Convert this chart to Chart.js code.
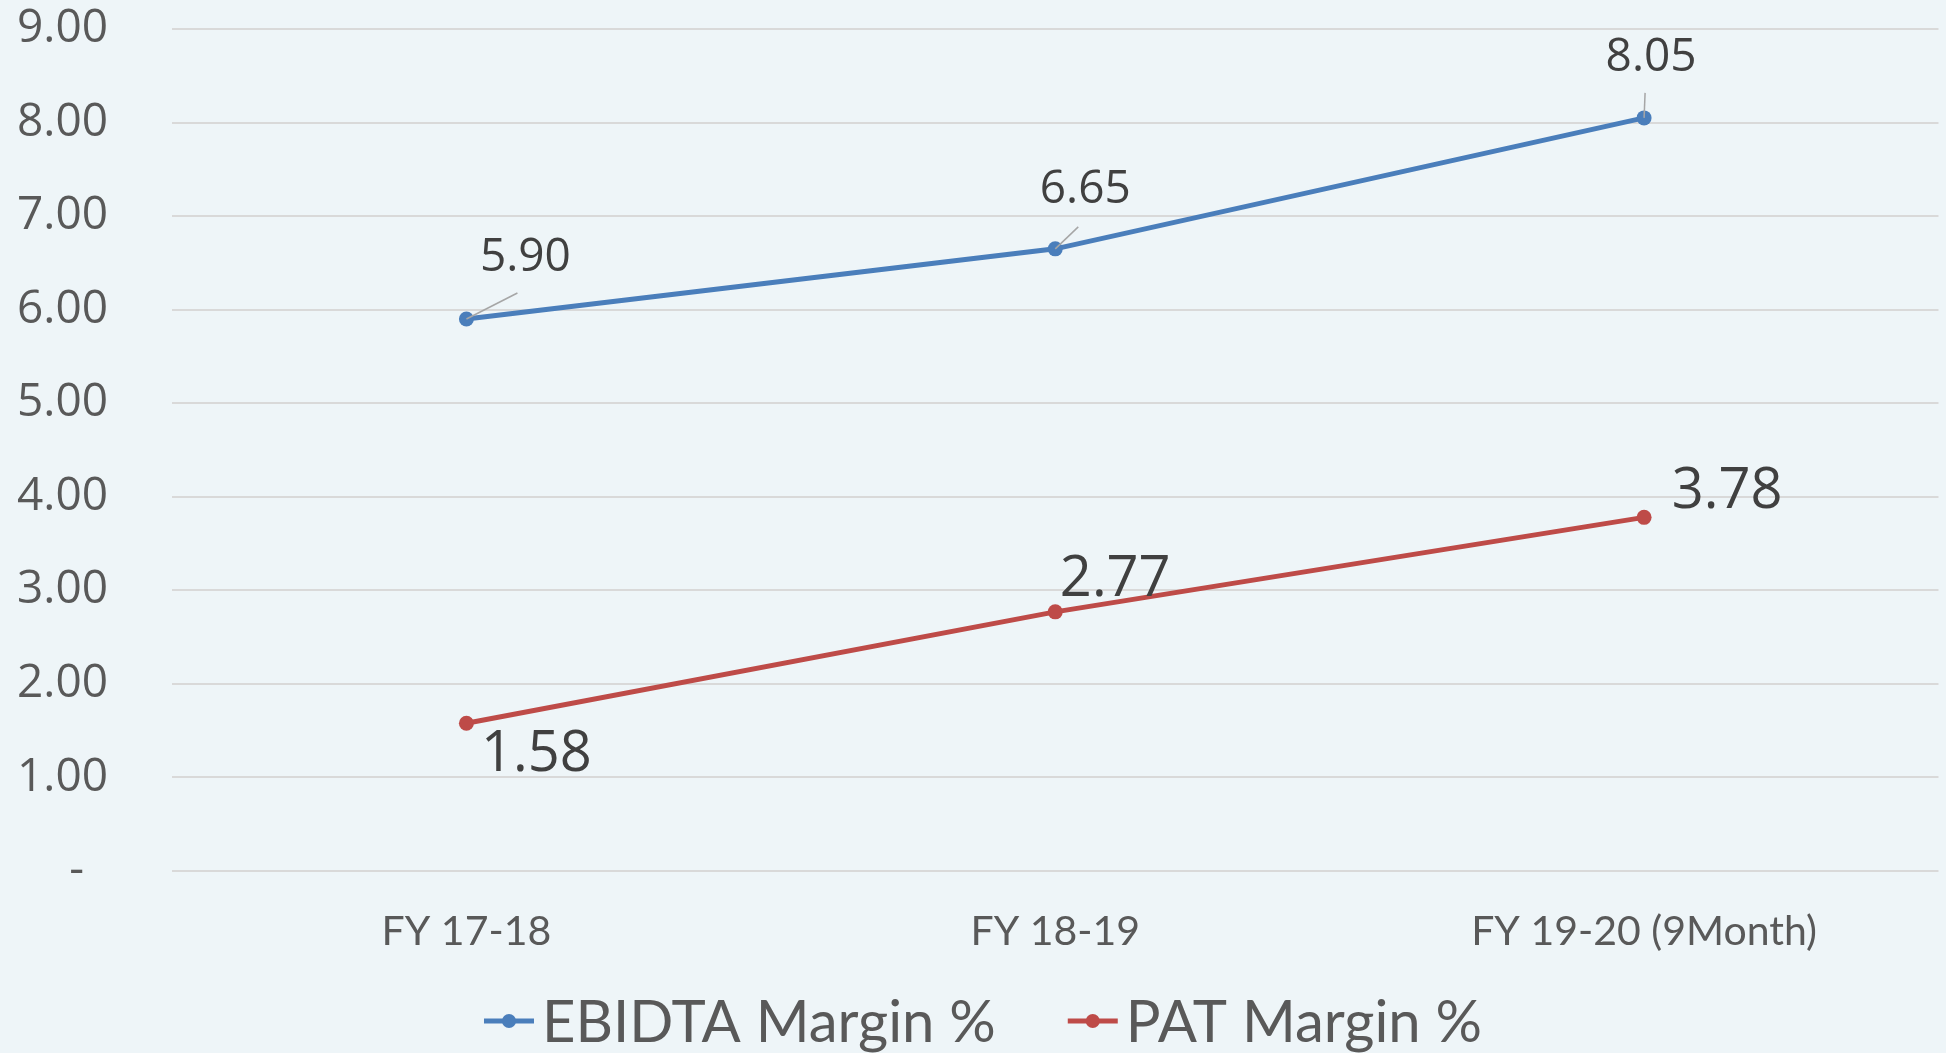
<!DOCTYPE html>
<html>
<head>
<meta charset="utf-8">
<script src="https://cdn.jsdelivr.net/npm/chart.js@4/dist/chart.umd.min.js"></script>
<style>
  html, body { margin: 0; padding: 0; background: #eef5f8; }
  #wrap { width: 1946px; height: 1053px; }
</style>
</head>
<body>
<div id="wrap"><canvas id="c" width="1946" height="1053"></canvas></div>
<script>
// ---- data ----
const categories = ['FY 17-18', 'FY 18-19', 'FY 19-20 (9Month)'];
const ebidtaMargin = [5.90, 6.65, 8.05];
const patMargin = [1.58, 2.77, 3.78];
const yTickLabels = ['-  ', '1.00', '2.00', '3.00', '4.00', '5.00', '6.00', '7.00', '8.00', '9.00'];
const seriesNames = ['EBIDTA Margin %', 'PAT Margin %'];

const BLUE = '#4a7ebb';
const RED = '#be4b48';

// label styling (offset from point, leader line end)
const labelStyles = [
  { font: '46px "Open Sans"', items: [
    { dx: 59, dy: -61, lx: 51, ly: -26 },
    { dx: 30, dy: -59, lx: 23, ly: -22 },
    { dx: 7, dy: -60, lx: 1, ly: -25 }
  ]},
  { font: '56px "Open Sans"', items: [
    { dx: 70, dy: 32 },
    { dx: 60, dy: -32 },
    { dx: 83, dy: -25 }
  ]}
];

const bgPlugin = {
  id: 'bg',
  beforeDraw(chart) {
    const ctx = chart.ctx;
    ctx.save();
    ctx.fillStyle = '#eef5f8';
    ctx.fillRect(0, 0, chart.width, chart.height);
    ctx.restore();
  }
};

const labelPlugin = {
  id: 'dataLabels',
  afterDatasetsDraw(chart) {
    const ctx = chart.ctx;
    ctx.save();
    chart.data.datasets.forEach((ds, di) => {
      const meta = chart.getDatasetMeta(di);
      const st = labelStyles[di];
      meta.data.forEach((pt, i) => {
        const s = st.items[i];
        if (s.lx !== undefined) {
          ctx.strokeStyle = '#a6a6a6';
          ctx.lineWidth = 1.5;
          ctx.beginPath();
          ctx.moveTo(pt.x, pt.y);
          ctx.lineTo(pt.x + s.lx, pt.y + s.ly);
          ctx.stroke();
        }
        ctx.font = st.font;
        ctx.fillStyle = '#404040';
        ctx.textAlign = 'center';
        ctx.textBaseline = 'middle';
        ctx.fillText(ds.data[i].toFixed(2), pt.x + s.dx, pt.y + s.dy);
      });
    });
    ctx.restore();
  }
};

const legendPlugin = {
  id: 'customLegend',
  afterDraw(chart) {
    const ctx = chart.ctx;
    ctx.save();
    ctx.font = '58px Lato';
    const markerW = 50, gap = 8, itemGap = 72;
    const items = chart.data.datasets.map(ds => ({
      text: ds.label, color: ds.borderColor, w: ctx.measureText(ds.label).width
    }));
    let total = 0;
    items.forEach((it, i) => { total += markerW + gap + it.w + (i ? itemGap : 0); });
    let x = chart.width / 2 - total / 2 + 10;
    const y = 1021;
    items.forEach((it, i) => {
      if (i) x += itemGap;
      ctx.strokeStyle = it.color;
      ctx.lineWidth = 5;
      ctx.beginPath();
      ctx.moveTo(x, y);
      ctx.lineTo(x + markerW, y);
      ctx.stroke();
      ctx.fillStyle = it.color;
      ctx.beginPath();
      ctx.arc(x + markerW / 2, y, 7, 0, Math.PI * 2);
      ctx.fill();
      ctx.fillStyle = '#595959';
      ctx.textAlign = 'left';
      ctx.textBaseline = 'middle';
      ctx.fillText(it.text, x + markerW + gap, y + 2);
      x += markerW + gap + it.w;
    });
    ctx.restore();
  }
};

new Chart(document.getElementById('c'), {
  type: 'line',
  data: {
    labels: categories,
    datasets: [
      { label: seriesNames[0], data: ebidtaMargin, borderColor: BLUE, backgroundColor: BLUE,
        borderWidth: 5, pointRadius: 7.5, pointHoverRadius: 7.5, pointBackgroundColor: BLUE, pointBorderWidth: 0, tension: 0 },
      { label: seriesNames[1], data: patMargin, borderColor: RED, backgroundColor: RED,
        borderWidth: 5, pointRadius: 7.5, pointHoverRadius: 7.5, pointBackgroundColor: RED, pointBorderWidth: 0, tension: 0 }
    ]
  },
  options: {
    responsive: false,
    animation: false,
    devicePixelRatio: 1,
    layout: { padding: { top: 29, right: 4, left: 0, bottom: 0 } },
    plugins: { legend: { display: false }, tooltip: { enabled: false } },
    scales: {
      x: {
        offset: true,
        grid: { display: false, drawTicks: false },
        border: { display: false },
        ticks: { color: '#595959', font: { family: 'Lato', size: 41 }, padding: 36, maxRotation: 0 },
        afterFit(scale) { scale.height = 182; }
      },
      y: {
        min: 0, max: 9,
        grid: { color: '#d9d9d9', lineWidth: 2, drawTicks: false },
        border: { display: false },
        ticks: {
          stepSize: 1,
          color: '#595959',
          font: { family: 'Open Sans', size: 46 },
          padding: 64,
          callback: (v) => yTickLabels[Math.round(v)]
        },
        afterFit(scale) { scale.width = 172; scale.paddingTop = 0; scale.paddingBottom = 0; }
      }
    }
  },
  plugins: [bgPlugin, labelPlugin, legendPlugin]
});
</script>
</body>
</html>
